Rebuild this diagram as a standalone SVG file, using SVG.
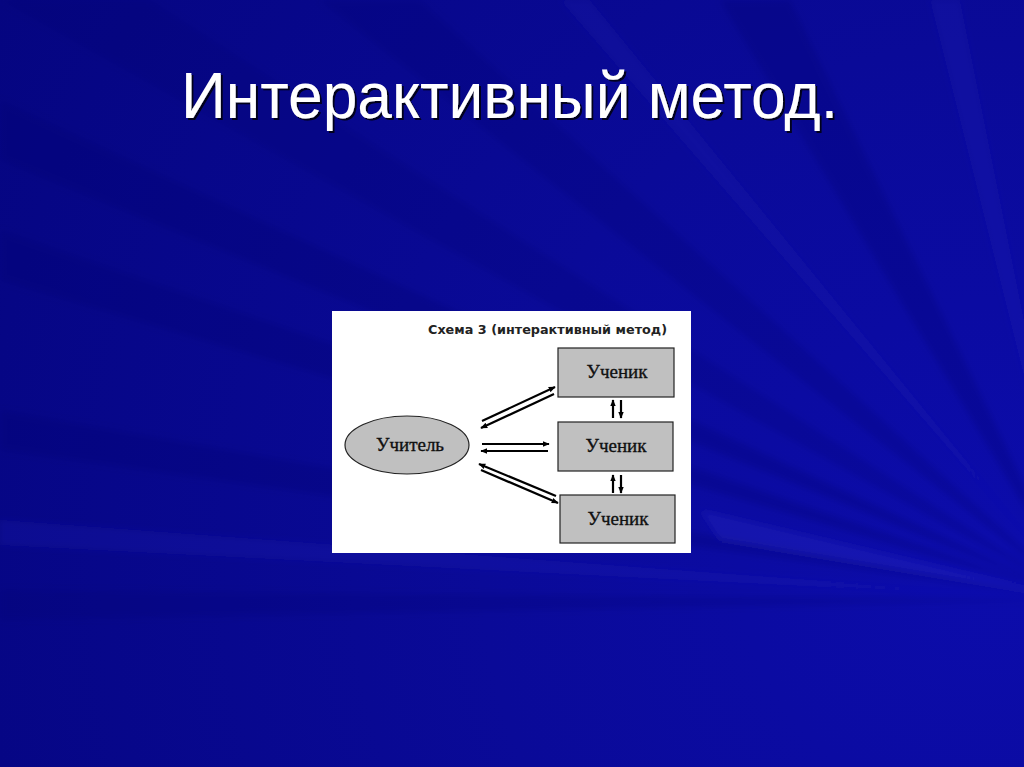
<svg xmlns="http://www.w3.org/2000/svg" width="1024" height="767" viewBox="0 0 1024 767">
<defs>
<radialGradient id="bg" cx="1000" cy="560" r="1150" gradientUnits="userSpaceOnUse">
<stop offset="0" stop-color="#0c0cac"/>
<stop offset="0.45" stop-color="#0a0a98"/>
<stop offset="1" stop-color="#050580"/>
</radialGradient>
<marker id="ah" viewBox="0 0 10 10" refX="9" refY="5" markerWidth="7" markerHeight="7" markerUnits="userSpaceOnUse" orient="auto">
<path d="M0,1 L10,5 L0,9 z" fill="#000"/>
</marker>
<filter id="sh" x="-5%" y="-20%" width="110%" height="140%">
<feDropShadow dx="2" dy="2" stdDeviation="0.6" flood-color="#000" flood-opacity="0.8"/>
</filter>
<filter id="blur"><feGaussianBlur stdDeviation="3"/></filter>
<style>
.box{fill:#c0c0c0;stroke:#222;stroke-width:1.2}
.lbl{font-family:"Liberation Serif",serif;font-size:19px;fill:#111;stroke:#111;stroke-width:0.35;text-anchor:middle}
.ar{stroke:#000;stroke-width:2.2;fill:none;marker-end:url(#ah)}
</style>
</defs>
<rect width="1024" height="767" fill="url(#bg)"/>
<g id="rays" filter="url(#blur)">
<polygon points="1080,600 0,230 0,280" fill="#000070" fill-opacity="0.25"/>
<polygon points="1080,600 0,410 0,450" fill="#000070" fill-opacity="0.25"/>
<polygon points="1080,600 0,520 0,545" fill="#2a2ac0" fill-opacity="0.18"/>
<polygon points="1080,600 0,590 0,620" fill="#000070" fill-opacity="0.2"/>
<polygon points="1080,600 320,0 420,0" fill="#000070" fill-opacity="0.22"/>
<polygon points="1080,600 720,0 790,0" fill="#000070" fill-opacity="0.25"/>
<polygon points="1080,600 560,0 590,0" fill="#2020b8" fill-opacity="0.18"/>
<polygon points="1080,600 930,0 960,0" fill="#2020b8" fill-opacity="0.2"/>
<polygon points="1080,600 700,510 720,540" fill="#3030c8" fill-opacity="0.3"/>
<polygon points="1080,600 0,100 0,160" fill="#000070" fill-opacity="0.25"/>
<polygon points="1080,600 0,0 150,0" fill="#000070" fill-opacity="0.2"/>
</g>
<text x="181" y="118" font-family="Liberation Sans, Arial, sans-serif" font-size="64" fill="#fff" textLength="657" lengthAdjust="spacingAndGlyphs" filter="url(#sh)">Интерактивный метод.</text>
<g id="panel">
<rect x="332" y="311" width="359" height="242" fill="#fff"/>
<text x="667" y="334" font-family="DejaVu Sans, sans-serif" font-weight="bold" font-size="11.5" fill="#222" text-anchor="end" textLength="239" lengthAdjust="spacingAndGlyphs">Схема 3 (интерактивный метод)</text>
</g>
<g id="teacher">
<ellipse cx="407" cy="445" rx="62" ry="29" fill="#c0c0c0" stroke="#222" stroke-width="1.2"/>
<text x="410" y="451" class="lbl">Учитель</text>
</g>
<g id="student1">
<rect x="558" y="348" width="116" height="49" class="box"/>
<text x="617" y="378" class="lbl">Ученик</text>
</g>
<g id="student2">
<rect x="558" y="422" width="115" height="49" class="box"/>
<text x="616" y="452" class="lbl">Ученик</text>
</g>
<g id="student3">
<rect x="560" y="495" width="115" height="48" class="box"/>
<text x="618" y="525" class="lbl">Ученик</text>
</g>
<g id="connectors">
<line x1="482" y1="421" x2="555" y2="387" class="ar"/>
<line x1="554" y1="394" x2="481" y2="428" class="ar"/>
<line x1="482" y1="444" x2="549" y2="444" class="ar"/>
<line x1="548" y1="451" x2="481" y2="451" class="ar"/>
<line x1="556" y1="496" x2="479" y2="464" class="ar"/>
<line x1="481" y1="470" x2="558" y2="503" class="ar"/>
<line x1="613" y1="418" x2="613" y2="400" class="ar"/>
<line x1="621" y1="400" x2="621" y2="418" class="ar"/>
<line x1="613" y1="493" x2="613" y2="475" class="ar"/>
<line x1="621" y1="475" x2="621" y2="493" class="ar"/>
</g>
</svg>
